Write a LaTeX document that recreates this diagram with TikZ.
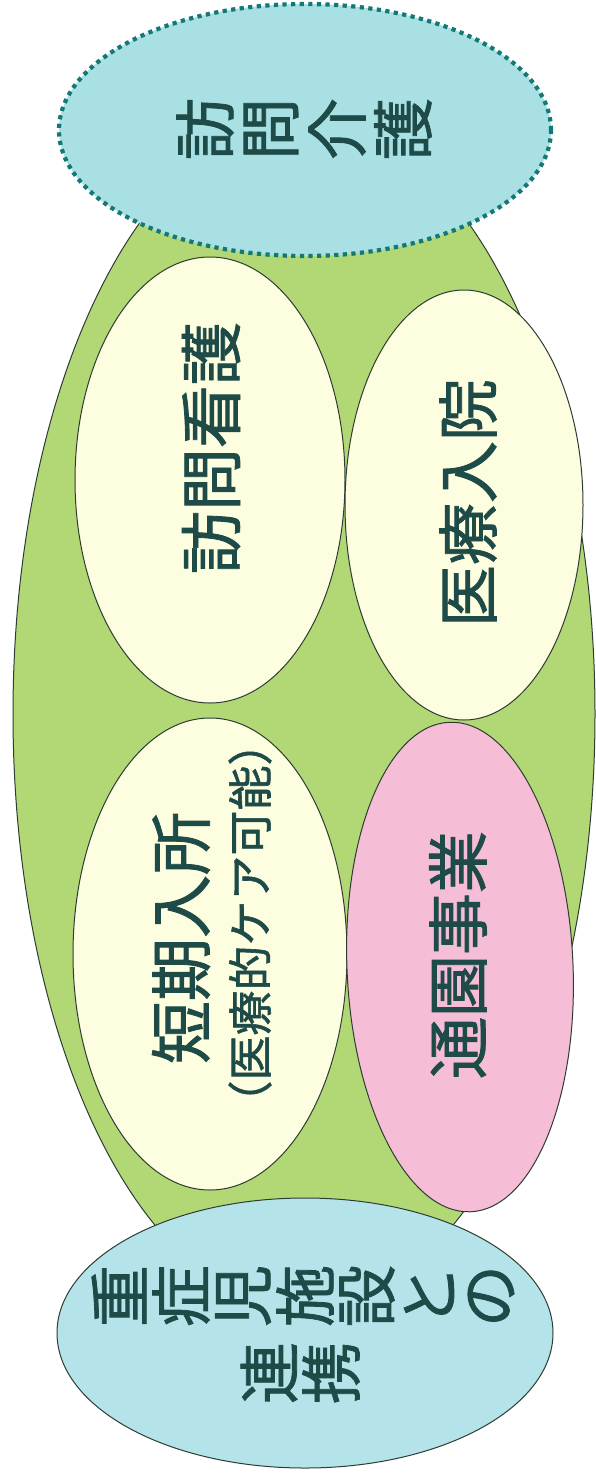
\documentclass[tikz,border=0pt]{standalone}
\usepackage{fontspec}
\newfontfamily\jp[FakeBold=1.3]{Noto Sans CJK JP}
\usetikzlibrary{shapes.geometric}
\definecolor{leaf}{RGB}{178,216,118}
\definecolor{cream}{RGB}{253,253,224}
\definecolor{blush}{RGB}{246,190,214}
\definecolor{aquatop}{RGB}{168,224,228}
\definecolor{aquabot}{RGB}{180,228,234}
\definecolor{inkc}{RGB}{30,75,72}
\definecolor{dotc}{RGB}{20,120,118}
\definecolor{edgec}{RGB}{45,60,50}
\begin{document}
\begin{tikzpicture}[x=1pt,y=1pt,
  blob/.style={ellipse, draw=edgec, line width=1pt, inner sep=0pt},
  lbl/.style={text=inkc, inner sep=0pt, rotate=90, font=\jp\fontsize{#1}{#1}\selectfont}]
\useasboundingbox (0,0) rectangle (596,-1480);
\fill[white] (0,0) rectangle (596,-1480);
% big green ellipse
\node[blob, fill=leaf, minimum width=582, minimum height=1190] (green) at (304,-714) {};
% top dotted ellipse
\node[ellipse, inner sep=0pt, fill=aquatop, draw=dotc, line width=4.2pt,
      dash pattern=on 4.2pt off 4.4pt, minimum width=492, minimum height=252] (kaigo) at (305,-130) {};
% inner ellipses
\node[blob, fill=cream, minimum width=270, minimum height=446] (kango) at (210,-480) {};
\node[blob, fill=cream, minimum width=238, minimum height=430] (nyuin) at (464,-505) {};
\node[blob, fill=cream, minimum width=274, minimum height=472] (tanki) at (210,-954) {};
\node[blob, fill=blush, minimum width=226, minimum height=490, rotate=2.5] (tsuen) at (460,-967) {};
% bottom ellipse
\node[blob, fill=aquabot, minimum width=496, minimum height=270] (renkei) at (305,-1333) {};
% labels
\foreach \c [count=\i] in {訪,問,介,護}
  \node[lbl=62] (kc\i) at ({139+66*\i},-129) {\c};
\node[lbl=63] (tkango) at (211,-448) {訪問看護};
\node[lbl=62] (tnyuin) at (468,-503) {医療入院};
\node[lbl=63] (ttanki) at (181,-938) {短期入所};
\node[lbl=45] (tcare) at (250,-923) {（医療的ケア可能）};
\node[lbl=62] (ttsuen) at (458,-955) {通園事業};
\foreach \c [count=\i] in {重,症,児,施,設,と,の}
  \node[lbl=62] (ra\i) at ({57+62*\i},-1296) {\c};
\node[lbl=62] (rb1) at (269,-1373) {連};
\node[lbl=62] (rb2) at (331,-1373) {携};
\end{tikzpicture}
\end{document}
